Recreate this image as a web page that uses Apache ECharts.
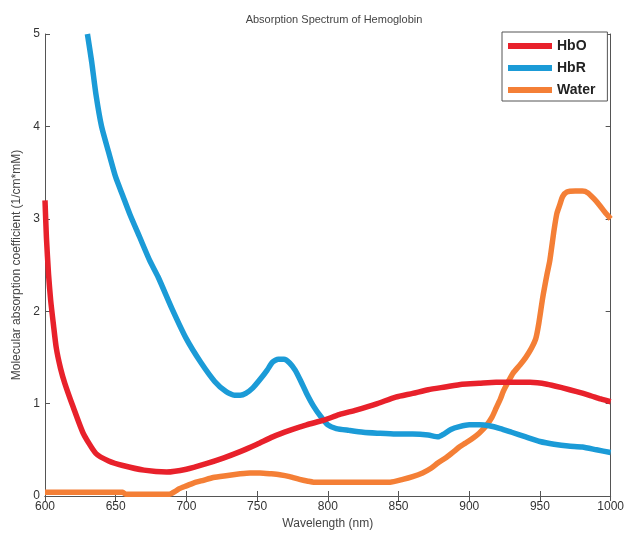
<!DOCTYPE html>
<html><head><meta charset="utf-8">
<script src="https://cdn.jsdelivr.net/npm/echarts@6/dist/echarts.min.js"></script>
<style>html,body{margin:0;padding:0;background:#fff}#c{width:627px;height:535px}</style>
</head><body><div id="c"></div>
<script>
const xTicks = [600, 650, 700, 750, 800, 850, 900, 950, 1000];
const yTicks = [0, 1, 2, 3, 4, 5];

const hboWl = [600, 601, 602.5, 604, 606, 608, 611, 614, 620, 627, 636, 645, 655, 670, 686, 700, 714, 726, 738, 750, 761, 773, 785, 797, 808, 820, 835, 848, 860, 871, 883, 895, 907, 919, 931, 943, 955, 966, 976, 985, 993, 1000];
const hbo = [3.2, 2.8, 2.4, 2.12, 1.85, 1.6, 1.38, 1.22, 0.96, 0.68, 0.46, 0.38, 0.33, 0.28, 0.26, 0.29, 0.35, 0.41, 0.48, 0.56, 0.64, 0.71, 0.77, 0.82, 0.88, 0.93, 1.0, 1.07, 1.11, 1.15, 1.18, 1.21, 1.22, 1.23, 1.23, 1.23, 1.21, 1.17, 1.13, 1.09, 1.05, 1.02];

const hbrWl = [630, 633, 636, 640, 645, 650, 655, 660, 667, 674, 680, 690, 700, 710, 720, 728, 734, 738, 742, 747, 752, 757, 761, 765, 769, 773, 777, 781, 785, 790, 795, 800, 806, 815, 825, 835, 848, 860, 871, 878, 882, 887, 893, 900, 907, 914, 922, 930, 940, 950, 960, 970, 980, 990, 1000];
const hbr = [5.0, 4.7, 4.35, 4.0, 3.72, 3.45, 3.25, 3.05, 2.8, 2.55, 2.37, 2.02, 1.7, 1.45, 1.24, 1.13, 1.09, 1.09, 1.11, 1.17, 1.26, 1.36, 1.45, 1.48, 1.48, 1.44, 1.36, 1.24, 1.11, 0.97, 0.86, 0.77, 0.73, 0.71, 0.69, 0.68, 0.67, 0.67, 0.66, 0.64, 0.67, 0.72, 0.75, 0.77, 0.77, 0.76, 0.73, 0.69, 0.64, 0.59, 0.56, 0.54, 0.53, 0.5, 0.47];

const waterWl = [600, 620, 640, 655, 657, 670, 688, 692, 695, 700, 705, 712, 719, 728, 738, 745, 752, 760, 766, 773, 780, 786, 790, 800, 815, 830, 844, 853, 860, 867, 873, 878, 884, 889, 893, 897, 902, 907, 912, 916, 919, 922, 924, 927, 931, 936, 940, 944, 947, 949, 952, 955, 957, 960, 962, 964, 966, 969, 975, 980, 984, 988, 992, 996, 1000];
const water = [0.04, 0.04, 0.04, 0.04, 0.02, 0.02, 0.02, 0.05, 0.08, 0.11, 0.14, 0.17, 0.2, 0.22, 0.24, 0.25, 0.25, 0.24, 0.23, 0.21, 0.18, 0.16, 0.15, 0.15, 0.15, 0.15, 0.15, 0.18, 0.21, 0.25, 0.3, 0.36, 0.42, 0.48, 0.53, 0.57, 0.62, 0.68, 0.76, 0.85, 0.95, 1.05, 1.13, 1.22, 1.33, 1.42, 1.5, 1.6, 1.7, 1.85, 2.15, 2.4, 2.55, 2.88, 3.06, 3.15, 3.24, 3.29, 3.3, 3.3, 3.28, 3.22, 3.15, 3.07, 3.0];

const pairs = (xs, ys) => xs.map((x, i) => [x, ys[i]]);
const axisColor = '#555';
const font = 'Liberation Sans, Arial, sans-serif';

const chart = echarts.init(document.getElementById('c'));
const xBase = {
  type: 'value', min: xTicks[0], max: xTicks[xTicks.length - 1], interval: 50,
  axisLine: {show: true, lineStyle: {color: axisColor, width: 1}},
  axisTick: {show: true, inside: true, length: 5, lineStyle: {color: axisColor}},
  splitLine: {show: false}
};
const yBase = {
  type: 'value', min: yTicks[0], max: yTicks[yTicks.length - 1], interval: 1,
  axisLine: {show: true, lineStyle: {color: axisColor, width: 1}},
  axisTick: {show: true, inside: true, length: 5, lineStyle: {color: axisColor}},
  splitLine: {show: false}
};
const mk = (name, xs, ys, color) => ({
  name, type: 'line', data: pairs(xs, ys), showSymbol: false, smooth: 0.2,
  lineStyle: {color, width: 5.5, join: 'round', cap: 'butt'}, itemStyle: {color}, clip: true
});
chart.setOption({
  animation: false,
  backgroundColor: '#fff',
  title: {
    text: 'Absorption Spectrum of Hemoglobin', left: 329, top: 9, textAlign: 'center',
    textStyle: {fontFamily: font, fontSize: 11, fontWeight: 'normal', color: '#444'}
  },
  grid: {left: 45, right: 13, top: 34, bottom: 39, containLabel: false},
  legend: {
    left: 502, top: 32, orient: 'vertical', icon: 'rect', itemWidth: 44, itemHeight: 6,
    itemGap: 8, padding: [7, 12, 4, 6], borderColor: axisColor, borderWidth: 1,
    backgroundColor: '#fff', borderRadius: 0,
    textStyle: {fontFamily: font, fontSize: 14, fontWeight: 'bold', color: '#222'},
    data: ['HbO', 'HbR', 'Water']
  },
  xAxis: [
    Object.assign({}, xBase, {
      position: 'bottom', name: 'Wavelength (nm)', nameLocation: 'middle', nameGap: 20,
      nameTextStyle: {fontFamily: font, fontSize: 12, color: '#444'},
      axisLabel: {fontFamily: font, fontSize: 12, color: '#333', margin: 5, showMinLabel: true, showMaxLabel: true,
        formatter: v => String(v)}
    }),
    Object.assign({}, xBase, {position: 'top', axisLabel: {show: false}})
  ],
  yAxis: [
    Object.assign({}, yBase, {
      position: 'left', name: 'Molecular absorption coefficient (1/cm*mM)', nameLocation: 'middle', nameGap: 22,
      nameTextStyle: {fontFamily: font, fontSize: 12, color: '#444'},
      axisLabel: {fontFamily: font, fontSize: 12, color: '#333', margin: 5}
    }),
    Object.assign({}, yBase, {position: 'right', axisLabel: {show: false}})
  ],
  series: [
    mk('Water', waterWl, water, '#f47f36'),
    mk('HbR', hbrWl, hbr, '#1b9bd7'),
    mk('HbO', hboWl, hbo, '#e8212b')
  ]
});
</script></body></html>
